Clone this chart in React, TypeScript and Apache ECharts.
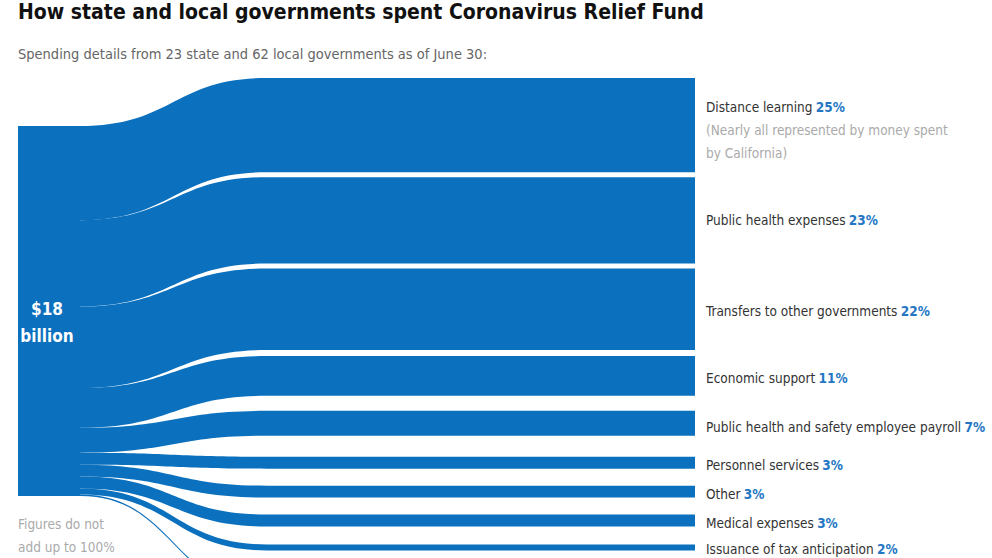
import React, { useEffect, useRef } from "react";
import * as echarts from "echarts";

// ---------- data ----------
const TITLE = "How state and local governments spent Coronavirus Relief Fund";
const SUBTITLE = "Spending details from 23 state and 62 local governments as of June 30:";
const FOOTNOTE = "Figures do not\nadd up to 100%";
const SOURCE_LABEL = "$18\nbillion";

const categories = [
  "Distance learning",
  "Public health expenses",
  "Transfers to other governments",
  "Economic support",
  "Public health and safety employee payroll",
  "Personnel services",
  "Other",
  "Medical expenses",
  "Issuance of tax anticipation",
  "Remaining categories",
];
const shares = [25.3, 23.2, 21.9, 10.7, 6.7, 3.2, 3.2, 3.2, 1.6, 0.4];
const percentLabels = ["25%", "23%", "22%", "11%", "7%", "3%", "3%", "3%", "2%", ""];
const notes = ["(Nearly all represented by money spent\nby California)", "", "", "", "", "", "", "", "", ""];
const showLabel = [true, true, true, true, true, true, true, true, true, false];

// ---------- layout ----------
const W = 992;
const H = 558;
const BLUE = "#0b70bd";
const FONT = "'DejaVu Sans Condensed', Roboto, sans-serif";
const NODE_W = 62;
const NODE_GAP = 20.9;
const SRC_X = 18;
const SRC_Y = 126;
const MID_X = 267;
const TGT_X = 633;
const TGT_TOP = 78;
const gapsAfter = [5, 5, 6, 15, 21, 17, 17, 18, 40];
const labelShift = [5, 0, 2, 2, 4, 2, 2, 2, 2, 0];

export default function App() {
  const ref = useRef<HTMLDivElement>(null);
  useEffect(() => {
    if (!ref.current) return;
    const chart = echarts.init(ref.current, undefined, { renderer: "svg" });
    const total = shares.reduce((a, b) => a + b, 0);
    const ky = Math.min((H - (categories.length - 1) * NODE_GAP) / total, H / total);
    const tops: number[] = [];
    let y = TGT_TOP;
    shares.forEach((s, i) => {
      tops.push(y);
      y += s * ky + (gapsAfter[i] ?? 0);
    });

    const nodes: any[] = [
      {
        name: "source",
        localX: SRC_X / W,
        localY: SRC_Y / H,
        label: {
          show: true,
          position: "inside",
          offset: [-2, 12],
          formatter: SOURCE_LABEL,
          color: "#fff",
          fontFamily: FONT,
          fontWeight: "bold",
          fontSize: 17,
          lineHeight: 27,
        },
      },
    ];
    categories.forEach((c, i) => {
      nodes.push({ name: "mid-" + i, localX: MID_X / W, localY: tops[i] / H, label: { show: false } });
    });
    categories.forEach((c, i) => {
      let f = `{n|${c}} {p|${percentLabels[i]}}`;
      if (notes[i]) f += "\n" + notes[i].split("\n").map((s) => `{s|${s}}`).join("\n");
      nodes.push({
        name: c,
        localX: TGT_X / W,
        localY: tops[i] / H,
        label: {
          show: showLabel[i],
          position: "right",
          distance: 11,
          offset: [0, labelShift[i]],
          formatter: f,
          rich: {
            n: { color: "#333", fontFamily: FONT, fontSize: 13.5, lineHeight: 23 },
            p: { color: "#2577c4", fontFamily: FONT, fontSize: 13.5, fontWeight: "bold", lineHeight: 23 },
            s: { color: "#aaa", fontFamily: FONT, fontSize: 13.5, lineHeight: 23 },
          },
        },
      });
    });
    const links: any[] = [];
    categories.forEach((c, i) => {
      links.push({ source: "source", target: "mid-" + i, value: shares[i] });
    });
    categories.forEach((c, i) => {
      links.push({ source: "mid-" + i, target: c, value: shares[i] });
    });

    chart.setOption({
      animation: false,
      backgroundColor: "#fff",
      title: [
        {
          text: TITLE,
          left: 18,
          top: 0,
          padding: 0,
          textStyle: { fontFamily: FONT, fontWeight: "bold", fontSize: 21, color: "#111", lineHeight: 24 },
        },
        {
          text: SUBTITLE,
          left: 18,
          top: 44,
          padding: 0,
          textStyle: { fontFamily: FONT, fontWeight: "normal", fontSize: 14.5, color: "#666", lineHeight: 20 },
        },
        {
          text: FOOTNOTE,
          left: 18,
          top: 512,
          padding: 0,
          textStyle: { fontFamily: FONT, fontWeight: "normal", fontSize: 13.5, color: "#aaa", lineHeight: 23 },
        },
      ],
      series: [
        {
          type: "sankey",
          left: 0,
          top: 0,
          right: 0,
          bottom: 0,
          nodeWidth: NODE_W,
          nodeGap: NODE_GAP,
          layoutIterations: 0,
          draggable: false,
          emphasis: { disabled: true },
          itemStyle: { color: BLUE, borderWidth: 0 },
          lineStyle: { color: BLUE, opacity: 1, curveness: 0.5 },
          label: { show: false },
          data: nodes,
          links: links,
        },
      ],
    });
    return () => chart.dispose();
  }, []);
  return (
    <div
      ref={ref}
      style={{ position: "fixed", left: 0, top: 0, width: W, height: H, overflow: "hidden", background: "#fff" }}
    />
  );
}
